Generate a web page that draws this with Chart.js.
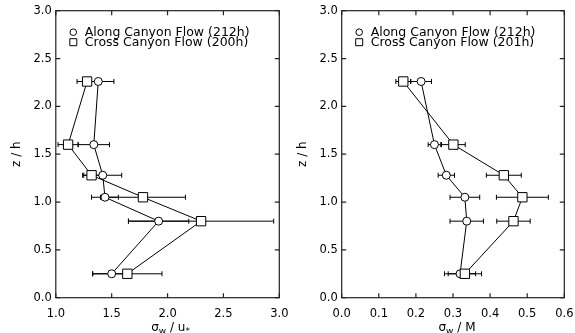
<!DOCTYPE html>
<html>
<head>
<meta charset="utf-8">
<script src="https://cdn.jsdelivr.net/npm/chart.js@4/dist/chart.umd.min.js"></script>
<style>
  html, body { margin: 0; padding: 0; background: #fff; overflow: hidden; }
  canvas { position: absolute; top: 0; }
  #leftChart { left: 0; }
  #rightChart { left: 286px; }
</style>
</head>
<body>
<canvas id="leftChart" width="290" height="333"></canvas>
<canvas id="rightChart" width="289" height="333"></canvas>
<script>
// Heights (z/h) shared by both panels
const zLevels = [0.25, 0.80, 1.05, 1.28, 1.60, 2.26];

// Left panel: sigma_w / u*
const alongU = [1.50, 1.92, 1.44, 1.42, 1.34, 1.38];
const alongUErr = [0.17, 0.27, 0.12, 0.17, 0.14, 0.14];
const crossU = [1.64, 2.30, 1.78, 1.32, 1.11, 1.28];
const crossUErr = [0.31, 0.65, 0.38, 0.08, 0.09, 0.09];

// Right panel: sigma_w / M
const alongM = [0.319, 0.337, 0.332, 0.282, 0.250, 0.214];
const alongMErr = [0.042, 0.045, 0.040, 0.022, 0.017, 0.028];
const crossM = [0.332, 0.463, 0.487, 0.437, 0.301, 0.166];
const crossMErr = [0.045, 0.045, 0.070, 0.047, 0.032, 0.020];

// Tick labels
const zTicks = ['0.0', '0.5', '1.0', '1.5', '2.0', '2.5', '3.0'];
const uTicks = ['1.0', '1.5', '2.0', '2.5', '3.0'];
const mTicks = ['0.0', '0.1', '0.2', '0.3', '0.4', '0.5', '0.6'];

const FONT = 'DejaVu Sans';

function points(xs) {
    return xs.map((x, i) => ({ x: x, y: zLevels[i] }));
}

// horizontal error bars with caps, drawn under the markers
const errorBars = {
    id: 'errorBars',
    beforeDatasetsDraw(chart) {
        const ctx = chart.ctx;
        const xs = chart.scales.x, ys = chart.scales.y;
        ctx.save();
        ctx.strokeStyle = '#000';
        ctx.lineWidth = 1;
        chart.data.datasets.forEach(ds => {
            ds.data.forEach((p, i) => {
                const e = ds.errors[i];
                const x0 = xs.getPixelForValue(p.x - e);
                const x1 = xs.getPixelForValue(p.x + e);
                const y = ys.getPixelForValue(p.y);
                ctx.beginPath();
                ctx.moveTo(x0, y); ctx.lineTo(x1, y);
                ctx.moveTo(x0, y - 2.5); ctx.lineTo(x0, y + 2.5);
                ctx.moveTo(x1, y - 2.5); ctx.lineTo(x1, y + 2.5);
                ctx.stroke();
            });
        });
        ctx.restore();
    }
};

// box round the plot with inward ticks on all four sides
const frameBox = {
    id: 'frameBox',
    afterDraw(chart) {
        const ctx = chart.ctx;
        const a = chart.chartArea;
        const xs = chart.scales.x, ys = chart.scales.y;
        const tl = 4.5;
        ctx.save();
        ctx.strokeStyle = '#222';
        ctx.lineWidth = 1.2;
        ctx.strokeRect(a.left, a.top, a.right - a.left, a.bottom - a.top);
        ctx.beginPath();
        xs.ticks.forEach(t => {
            const x = xs.getPixelForValue(t.value);
            ctx.moveTo(x, a.bottom); ctx.lineTo(x, a.bottom - tl);
            ctx.moveTo(x, a.top); ctx.lineTo(x, a.top + tl);
        });
        ys.ticks.forEach(t => {
            const y = ys.getPixelForValue(t.value);
            ctx.moveTo(a.left, y); ctx.lineTo(a.left + tl, y);
            ctx.moveTo(a.right, y); ctx.lineTo(a.right - tl, y);
        });
        ctx.stroke();
        ctx.restore();
    }
};

// legend in the upper left corner of the plot
const innerLegend = {
    id: 'innerLegend',
    afterDraw(chart) {
        const ctx = chart.ctx;
        const a = chart.chartArea;
        ctx.save();
        ctx.font = '12.5px "' + FONT + '"';
        ctx.textBaseline = 'middle';
        ctx.fillStyle = '#000';
        ctx.strokeStyle = '#000';
        ctx.lineWidth = 1;
        chart.data.datasets.slice().reverse().forEach((ds, i) => {
            const mx = a.left + 17.5;
            const my = a.top + 21.5 + i * 10;
            ctx.beginPath();
            if (ds.pointStyle === 'rect') {
                ctx.rect(mx - 3.5, my - 3.5, 7, 7);
            } else {
                ctx.arc(mx, my, 3.3, 0, Math.PI * 2);
            }
            ctx.stroke();
            ctx.fillText(ds.label, mx + 11.5, my + 0.5);
        });
        ctx.restore();
    }
};

// x axis title with subscripts
const subTitle = {
    id: 'subTitle',
    afterDraw(chart, args, opts) {
        const ctx = chart.ctx;
        const a = chart.chartArea;
        const parts = opts.parts;
        ctx.save();
        ctx.fillStyle = '#000';
        ctx.textBaseline = 'alphabetic';
        let total = 0;
        parts.forEach(p => {
            ctx.font = (p.sub ? 9 : 12) + 'px "' + FONT + '"';
            total += ctx.measureText(p.text).width;
        });
        let x = (a.left + a.right) / 2 - total / 2 + (opts.shift || 0);
        const base = 331;
        parts.forEach(p => {
            ctx.font = (p.sub ? 9 : 12) + 'px "' + FONT + '"';
            ctx.fillText(p.text, x, p.sub ? base + 3 : base);
            x += ctx.measureText(p.text).width;
        });
        ctx.restore();
    }
};

function makePanel(id, along, alongErr, cross, crossErr, crossLabel, xMin, xMax, xStep, xLabels, titleParts, titleShift, plotLeft, padRight) {
    new Chart(document.getElementById(id), {
        type: 'scatter',
        data: {
            datasets: [{
                label: crossLabel,
                data: points(cross),
                errors: crossErr,
                showLine: true,
                pointStyle: 'rect',
                pointRadius: 6.6,
                pointHoverRadius: 6.6,
                backgroundColor: '#fff',
                borderColor: '#000',
                borderWidth: 1,
                pointBorderWidth: 1
            }, {
                label: 'Along Canyon Flow (212h)',
                data: points(along),
                errors: alongErr,
                showLine: true,
                pointStyle: 'circle',
                pointRadius: 4,
                pointHoverRadius: 4,
                backgroundColor: '#fff',
                borderColor: '#000',
                borderWidth: 1,
                pointBorderWidth: 1
            }]
        },
        options: {
            responsive: false,
            animation: false,
            events: [],
            layout: { padding: { top: 10.7, right: padRight, left: 0, bottom: 0 } },
            plugins: {
                legend: { display: false },
                tooltip: { enabled: false },
                subTitle: { parts: titleParts, shift: titleShift }
            },
            scales: {
                x: {
                    type: 'linear',
                    min: xMin,
                    max: xMax,
                    grid: { display: false, drawTicks: false },
                    border: { display: false },
                    ticks: {
                        stepSize: xStep,
                        padding: 9,
                        color: '#000',
                        font: { family: FONT, size: 11.5 },
                        callback: (v, i) => xLabels[i]
                    },
                    afterFit: s => {
                        s.height = 35.3;
                        s.paddingLeft = 0;
                        s.paddingRight = 0;
                    }
                },
                y: {
                    type: 'linear',
                    min: 0,
                    max: 3,
                    grid: { display: false, drawTicks: false },
                    border: { display: false },
                    title: {
                        display: true,
                        text: 'z / h',
                        color: '#000',
                        font: { family: FONT, size: 12 },
                        padding: { top: 10, bottom: 0 }
                    },
                    ticks: {
                        stepSize: 0.5,
                        padding: 4,
                        color: '#000',
                        font: { family: FONT, size: 11.5 },
                        callback: (v, i) => zTicks[i]
                    },
                    afterFit: s => {
                        s.width = plotLeft;
                        s.paddingTop = 0;
                        s.paddingBottom = 0;
                    }
                }
            }
        },
        plugins: [errorBars, frameBox, innerLegend, subTitle]
    });
}

makePanel('leftChart', alongU, alongUErr, crossU, crossUErr, 'Cross Canyon Flow (200h)',
    1, 3, 0.5, uTicks,
    [{ text: 'σ' }, { text: 'w', sub: true }, { text: ' / u' }, { text: '*', sub: true }], 3,
    55.8, 10.7);

makePanel('rightChart', alongM, alongMErr, crossM, crossMErr, 'Cross Canyon Flow (201h)',
    0, 0.6, 0.1, mTicks,
    [{ text: 'σ' }, { text: 'w', sub: true }, { text: ' / M' }], 4,
    55.7, 10.7);
</script>
</body>
</html>
